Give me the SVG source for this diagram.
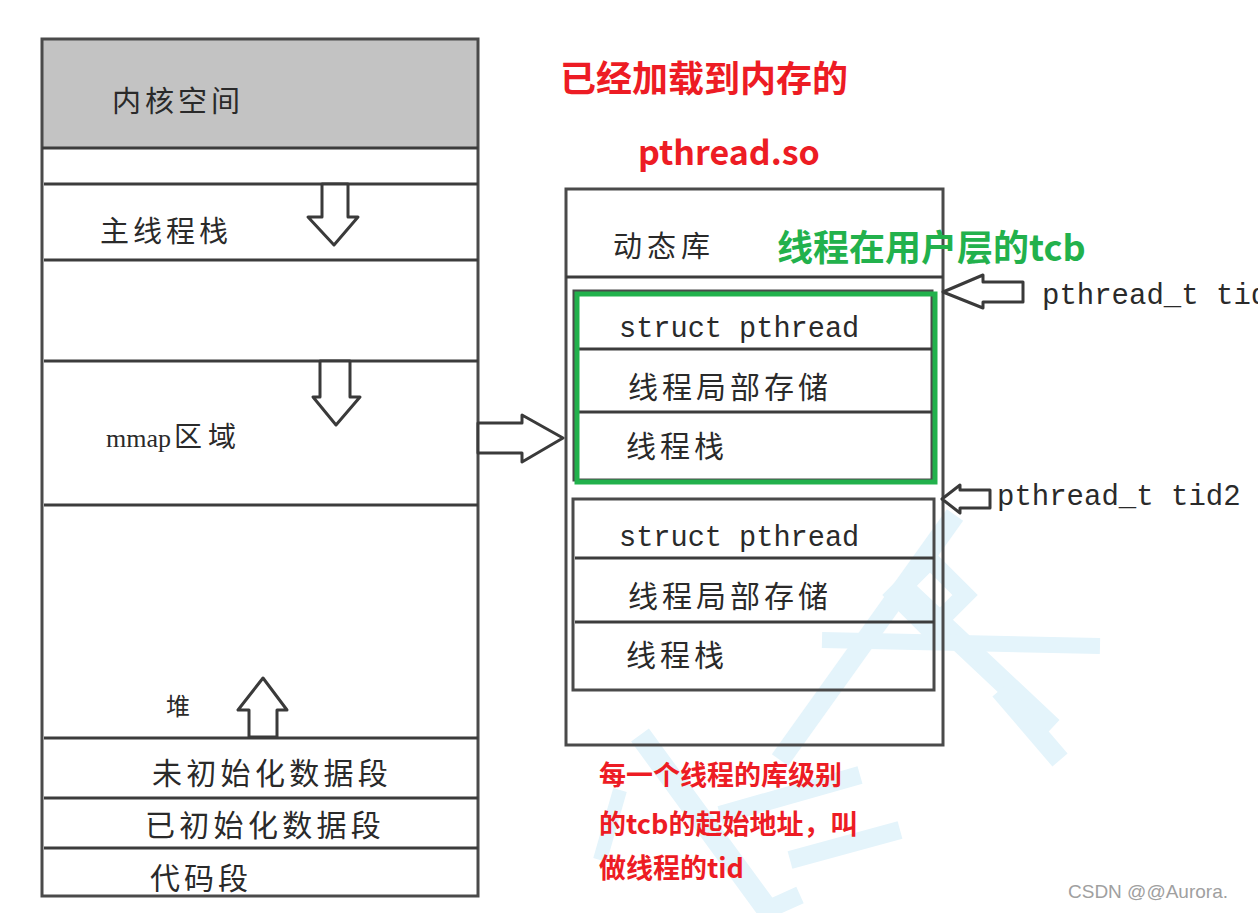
<svg xmlns="http://www.w3.org/2000/svg" width="1258" height="913" viewBox="0 0 1258 913">
<defs>
<style>
.box{fill:none;stroke:#4a4a4a;stroke-width:3}
.sep{stroke:#3c3c3c;stroke-width:3;fill:none}
.arr{fill:#fff;stroke:#3a3a3a;stroke-width:3;stroke-linejoin:round}
.cn{font-family:"Noto Sans CJK SC","Noto Sans",sans-serif;fill:#2a2a2a}
.mono{font-family:"Liberation Mono","DejaVu Sans Mono",monospace;fill:#2a2a2a}
.red{font-family:"Noto Sans CJK SC",sans-serif;font-weight:bold;fill:#ed1c24}
.green{font-family:"Noto Sans CJK SC",sans-serif;font-weight:bold;fill:#22b14c}
.wm{stroke:#e4f4fb;fill:none;stroke-linecap:butt}
</style>
</defs>
<rect width="1258" height="913" fill="#fff"/>

<g id="watermark">
<path class="wm" stroke-width="22" d="M900,585 L1052,728"/>
<path class="wm" stroke-width="16" d="M822,640 L1100,646"/>
<path class="wm" stroke-width="20" d="M955,515 L780,760"/>
<path class="wm" stroke-width="18" d="M930,560 L965,595 L930,630 L895,595 Z"/>
<path class="wm" stroke-width="20" d="M1000,690 L1060,760"/>
<path class="wm" stroke-width="22" d="M640,735 L770,913"/>
<path class="wm" stroke-width="18" d="M720,815 L860,775"/>
<path class="wm" stroke-width="18" d="M790,860 L900,830"/>
<path class="wm" stroke-width="18" d="M760,913 L800,895"/>
<path class="wm" stroke-width="14" d="M620,790 L600,860"/>
</g>

<g id="memory-layout">
<rect x="42" y="39" width="436" height="109" fill="#c3c3c3"/>
<rect class="box" x="42" y="39" width="436" height="857"/>
<line class="sep" x1="42" y1="148" x2="478" y2="148"/>
<line class="sep" x1="44" y1="184" x2="478" y2="184"/>
<line class="sep" x1="44" y1="260" x2="478" y2="260"/>
<line class="sep" x1="44" y1="361" x2="478" y2="361"/>
<line class="sep" x1="44" y1="505" x2="478" y2="505"/>
<line class="sep" x1="44" y1="738" x2="478" y2="738"/>
<line class="sep" x1="44" y1="798" x2="478" y2="798"/>
<line class="sep" x1="44" y1="848" x2="478" y2="848"/>
<text class="cn" x="112" y="112" font-size="29" letter-spacing="4">内核空间</text>
<text class="cn" x="100" y="242" font-size="29" letter-spacing="4">主线程栈</text>
<text x="106" y="447"><tspan font-family="Liberation Serif,serif" font-size="26" fill="#2a2a2a">mmap</tspan><tspan class="cn" font-size="28" dx="3" letter-spacing="6">区域</tspan></text>
<text class="cn" x="166" y="715" font-size="24">堆</text>
<text class="cn" x="152" y="784" font-size="30" letter-spacing="4.3">未初始化数据段</text>
<text class="cn" x="145" y="836" font-size="30" letter-spacing="4.3">已初始化数据段</text>
<text class="cn" x="150" y="889" font-size="30" letter-spacing="4">代码段</text>
<path class="arr" d="M322,184 L348,184 L348,217 L358,217 L334,245 L308,217 L322,217 Z"/>
<path class="arr" d="M320,361 L350,361 L350,397 L360,397 L336,425 L313,397 L320,397 Z"/>
<path class="arr" d="M249,737 L277,737 L277,710 L287,710 L263,678 L238,710 L249,710 Z"/>
</g>

<g id="pthread-so">
<rect class="box" x="566" y="189" width="377" height="556" fill="none"/>
<line class="sep" x1="566" y1="277" x2="943" y2="277"/>
<text class="cn" x="613" y="257" font-size="29" letter-spacing="5">动态库</text>
</g>

<g id="tcb1">
<rect class="box" x="574" y="291" width="358" height="189"/>
<line class="sep" x1="576" y1="349" x2="932" y2="349"/>
<line class="sep" x1="576" y1="412" x2="932" y2="412"/>
<text class="mono" x="619" y="337" font-size="28.6">struct pthread</text>
<text class="cn" x="628" y="398" font-size="30" letter-spacing="4">线程局部存储</text>
<text class="cn" x="626" y="457" font-size="30" letter-spacing="4">线程栈</text>
<rect x="577" y="294" width="358" height="188" fill="none" stroke="#22b14c" stroke-width="5"/>
</g>

<g id="tcb2">
<rect class="box" x="573" y="499" width="361" height="191"/>
<line class="sep" x1="575" y1="558" x2="934" y2="558"/>
<line class="sep" x1="575" y1="622" x2="934" y2="622"/>
<text class="mono" x="619" y="546" font-size="28.6">struct pthread</text>
<text class="cn" x="628" y="607" font-size="30" letter-spacing="4">线程局部存储</text>
<text class="cn" x="626" y="666" font-size="30" letter-spacing="4">线程栈</text>
</g>

<g id="connectors">
<path class="arr" d="M478,423 L522,423 L522,415 L563,438 L522,462 L522,453 L478,453 Z"/>
<path class="arr" d="M1023,282 L983,282 L983,275 L943,292 L983,308 L983,302 L1023,302 Z"/>
<path class="arr" d="M990,490 L960,490 L960,485 L942,499 L960,513 L960,508 L990,508 Z"/>
</g>

<g id="labels">
<text class="mono" x="1042" y="304" font-size="29">pthread_t tid</text>
<text class="mono" x="997" y="505" font-size="29">pthread_t tid2</text>
<text class="red" x="560" y="92" font-size="36">已经加载到内存的</text>
<text class="red" x="638" y="165" font-size="34" font-family="Liberation Sans,sans-serif">pthread.so</text>
<text class="green" x="777" y="261" font-size="36">线程在用户层的tcb</text>
<text class="red" x="599" y="785" font-size="27">每一个线程的库级别</text>
<text class="red" x="599" y="834" font-size="27">的tcb的起始地址，叫</text>
<text class="red" x="599" y="878" font-size="27">做线程的tid</text>
<text x="1068" y="898" font-size="19" font-family="Liberation Sans,sans-serif" fill="#a0a0a0">CSDN @@Aurora.</text>
</g>
</svg>
